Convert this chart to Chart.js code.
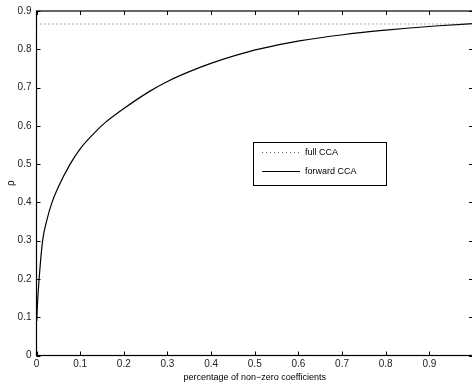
<!DOCTYPE html>
<html>
<head>
<meta charset="utf-8">
<script src="https://cdn.jsdelivr.net/npm/chart.js@4/dist/chart.umd.min.js"></script>
<style>
html,body{margin:0;padding:0;background:#fff;overflow:hidden;}
#wrap{width:476px;height:383px;}
</style>
</head>
<body>
<div id="wrap"><canvas id="c" width="476" height="383"></canvas></div>
<script>
const xValues =    [0.0005, 0.002, 0.006, 0.014, 0.024, 0.035, 0.05, 0.077, 0.1, 0.14, 0.156, 0.2, 0.259, 0.3, 0.373, 0.43, 0.487, 0.556, 0.602, 0.702, 0.8, 0.848, 0.921, 1.0];
const forwardCCA = [0.09,   0.13,  0.2,   0.3,   0.355, 0.398, 0.44, 0.5,   0.54, 0.59, 0.607, 0.645, 0.69, 0.716, 0.752, 0.775, 0.794, 0.812, 0.822, 0.838, 0.85, 0.855, 0.8615, 0.867];
const fullCCA = 0.866;
const fullX = [0, 1];
const seriesNames = ['full CCA', 'forward CCA'];
const xTicks = [0, 0.1, 0.2, 0.3, 0.4, 0.5, 0.6, 0.7, 0.8, 0.9, 1];
const yTicks = [0, 0.1, 0.2, 0.3, 0.4, 0.5, 0.6, 0.7, 0.8, 0.9];

const FONT = 'Liberation Sans, Arial, sans-serif';

const boxTicks = {
  id: 'boxTicks',
  afterDraw(chart) {
    const {ctx, chartArea: a, scales} = chart;
    ctx.save();
    ctx.strokeStyle = '#000';
    ctx.lineWidth = 1.2;
    ctx.strokeRect(a.left, a.top, a.right - a.left, a.bottom - a.top);
    ctx.lineWidth = 1;
    const L = 4;
    ctx.beginPath();
    xTicks.forEach(v => {
      const p = Math.round(scales.x.getPixelForValue(v)) + 0.5;
      ctx.moveTo(p, a.bottom); ctx.lineTo(p, a.bottom - L);
      ctx.moveTo(p, a.top); ctx.lineTo(p, a.top + L);
    });
    yTicks.forEach(v => {
      const p = Math.round(scales.y.getPixelForValue(v)) + 0.5;
      ctx.moveTo(a.left, p); ctx.lineTo(a.left + L, p);
      ctx.moveTo(a.right, p); ctx.lineTo(a.right - L, p);
    });
    ctx.stroke();

    // legend
    const bx = 253.5, by = 142.5, bw = 133, bh = 43;
    ctx.fillStyle = '#fff';
    ctx.fillRect(bx, by, bw, bh);
    ctx.strokeStyle = '#000';
    ctx.lineWidth = 1;
    ctx.strokeRect(bx, by, bw, bh);
    const ds = chart.data.datasets;
    const rows = [152.5, 171.5];
    ds.forEach((d, i) => {
      ctx.beginPath();
      ctx.strokeStyle = d.borderColor;
      ctx.lineWidth = d.borderWidth;
      ctx.setLineDash(d.borderDash || []);
      ctx.moveTo(262, rows[i]); ctx.lineTo(300, rows[i]);
      ctx.stroke();
      ctx.setLineDash([]);
      ctx.fillStyle = '#000';
      ctx.font = '9px ' + FONT;
      ctx.textBaseline = 'middle';
      ctx.textAlign = 'left';
      ctx.fillText(d.label, 305, rows[i]);
    });
    ctx.restore();
  }
};

new Chart(document.getElementById('c'), {
  type: 'line',
  data: {
    datasets: [
      {
        label: seriesNames[0],
        data: fullX.map(x => ({x: x, y: fullCCA})),
        borderColor: '#666',
        borderWidth: 1,
        borderDash: [1, 3],
        pointRadius: 0,
        fill: false
      },
      {
        label: seriesNames[1],
        data: xValues.map((x, i) => ({x: x, y: forwardCCA[i]})),
        borderColor: '#000',
        borderWidth: 1.2,
        pointRadius: 0,
        cubicInterpolationMode: 'monotone',
        fill: false
      }
    ]
  },
  options: {
    responsive: false,
    animation: false,
    events: [],
    layout: {padding: {top: 11, right: 1.5, left: 0, bottom: 0}},
    plugins: {legend: {display: false}, tooltip: {enabled: false}},
    scales: {
      x: {
        type: 'linear',
        min: 0, max: 1,
        afterFit(s) { s.height = 27.5; },
        afterBuildTicks(s) { s.ticks = xTicks.map(v => ({value: v})); },
        grid: {display: false, drawTicks: false, tickLength: 0},
        border: {display: false},
        ticks: {
          color: '#222', font: {family: FONT, size: 10}, padding: 3, maxRotation: 0, autoSkip: false,
          callback: v => (v === 1 ? '' : String(Math.round(v * 10) / 10))
        },
        title: {display: true, text: 'percentage of non\u2212zero coefficients', color: '#000', font: {family: FONT, size: 9}, padding: {top: 0, bottom: 0}}
      },
      y: {
        type: 'linear',
        min: 0, max: 0.9,
        afterFit(s) { s.width = 36.5; },
        afterBuildTicks(s) { s.ticks = yTicks.map(v => ({value: v})); },
        grid: {display: false, drawTicks: false, tickLength: 0},
        border: {display: false},
        ticks: {
          color: '#222', font: {family: FONT, size: 10}, padding: 5, autoSkip: false,
          callback: v => String(Math.round(v * 10) / 10)
        },
        title: {display: true, text: 'ρ', color: '#000', font: {family: FONT, size: 10}, padding: {top: 5, bottom: 0}}
      }
    }
  },
  plugins: [boxTicks]
});
</script>
</body>
</html>
